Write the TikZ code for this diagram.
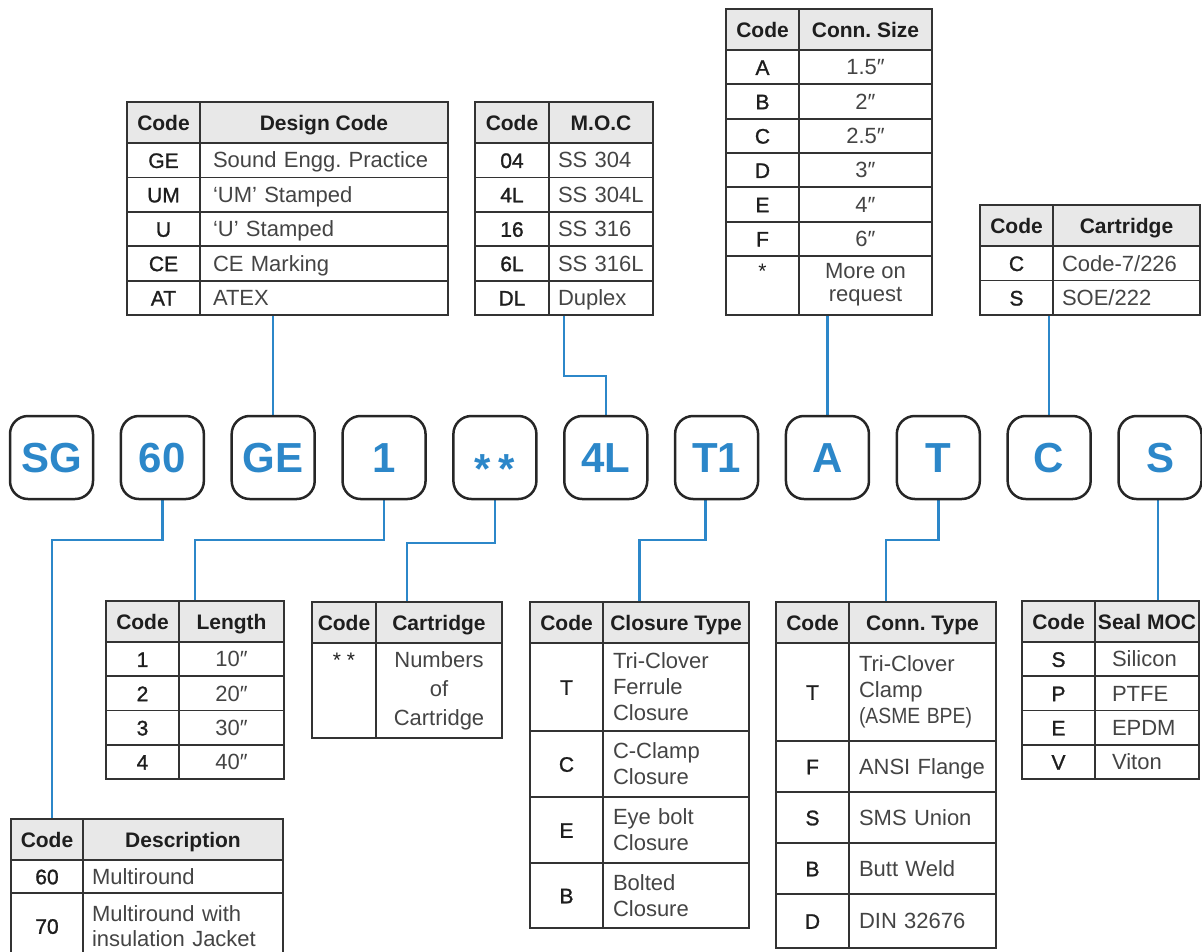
\documentclass[tikz,border=0pt]{standalone}
\usepackage{fontspec}
\setmainfont{Liberation Sans}
\newfontfamily\codefont{Liberation Sans}[FakeBold=1.2]
\usepackage{graphicx}
\usepackage{xcolor}
\usepackage{tikz}
\usetikzlibrary{positioning, calc, fit, backgrounds}
\definecolor{keyblue}{RGB}{44,135,201}
\definecolor{boxline}{RGB}{38,38,38}
\definecolor{tabline}{RGB}{51,51,51}
\definecolor{headgray}{RGB}{232,232,232}
\definecolor{textdark}{RGB}{30,30,30}
\definecolor{textsoft}{RGB}{68,68,68}
\frenchspacing

\begin{document}
\begin{tikzpicture}[
        x=1pt, y=-1pt,
        keybox/.style={rectangle, rounded corners=18pt, draw=boxline, line width=2.5pt, minimum width=83pt, minimum height=83pt, inner sep=0pt, outer sep=0pt, text height=30pt, text depth=0pt, text=keyblue, font=\fontsize{42}{42}\selectfont\bfseries},
        cell/.style={rectangle, draw=tabline, line width=1.8pt, inner sep=0pt, outer sep=0pt, anchor=north west, text height=15.5pt, text depth=0pt},
        multi/.style={text height={}, text depth={}},
        headcell/.style={cell, fill=headgray, text=textdark, minimum width=#1, minimum height=41pt, font=\fontsize{21}{25}\selectfont\bfseries},
        codecell/.style={cell, text=textdark, minimum width=#1, align=center, font=\fontsize{21}{26}\selectfont\codefont},
        desccell/.style n args={2}{cell, text=textsoft, inner xsep=#1, text width=#2, align=left, font=\fontsize{22}{26}\selectfont},
        valcell/.style={cell, text=textsoft, minimum width=#1, align=center, font=\fontsize{22}{26}\selectfont},
        tabframe/.style={rectangle, draw=tabline, line width=1.8pt, inner sep=0pt, outer sep=0pt},
        link/.style={draw=keyblue, line width=2.5pt}
    ]
    \useasboundingbox (0,0) rectangle (1202,951);

    % Code boxes
    \node[keybox] (bSG) at (51.5,457.5) {SG};
    \node[keybox, right=27.85pt of bSG] (b60) {60};
    \node[keybox, right=27.85pt of b60] (bGE) {GE};
    \node[keybox, right=27.85pt of bGE] (b1) {1};
    \node[keybox, right=27.85pt of b1] (bStar) {\raisebox{-11pt}{*\hspace{8pt}*}};
    \node[keybox, right=27.85pt of bStar] (b4L) {4L};
    \node[keybox, right=27.85pt of b4L] (bT1) {T1};
    \node[keybox, right=27.85pt of bT1] (bA) {A};
    \node[keybox, right=27.85pt of bA] (bT) {T};
    \node[keybox, right=27.85pt of bT] (bC) {C};
    \node[keybox, right=27.85pt of bC] (bS) {S};

    % Design Code table
    \node[headcell=73] (dcHc) at (127,102) {Code};
    \node[headcell=248, right=0pt of dcHc] (dcHd) {Design Code};
    \node[codecell=73, minimum height=34.4pt, below=0pt of dcHc] (dcGE) {GE};
    \node[desccell={13pt}{222pt}, minimum height=34.4pt, right=0pt of dcGE] (dcGEd) {Sound Engg. Practice};
    \node[codecell=73, minimum height=34.4pt, below=0pt of dcGE] (dcUM) {UM};
    \node[desccell={13pt}{222pt}, minimum height=34.4pt, right=0pt of dcUM] (dcUMd) {‘UM’ Stamped};
    \node[codecell=73, minimum height=34.4pt, below=0pt of dcUM] (dcU) {U};
    \node[desccell={13pt}{222pt}, minimum height=34.4pt, right=0pt of dcU] (dcUd) {‘U’ Stamped};
    \node[codecell=73, minimum height=34.4pt, below=0pt of dcU] (dcCE) {CE};
    \node[desccell={13pt}{222pt}, minimum height=34.4pt, right=0pt of dcCE] (dcCEd) {CE Marking};
    \node[codecell=73, minimum height=34.4pt, below=0pt of dcCE] (dcAT) {AT};
    \node[desccell={13pt}{222pt}, minimum height=34.4pt, right=0pt of dcAT] (dcATd) {ATEX};
    \node[tabframe, fit=(dcHc)(dcATd)] (tDesign) {};

    % M.O.C table
    \node[headcell=74] (mcHc) at (475,102) {Code};
    \node[headcell=104, right=0pt of mcHc] (mcHd) {M.O.C};
    \node[codecell=74, minimum height=34.4pt, below=0pt of mcHc] (mc04) {04};
    \node[desccell={9pt}{86pt}, minimum height=34.4pt, right=0pt of mc04] (mc04d) {SS 304};
    \node[codecell=74, minimum height=34.4pt, below=0pt of mc04] (mc4L) {4L};
    \node[desccell={9pt}{86pt}, minimum height=34.4pt, right=0pt of mc4L] (mc4Ld) {SS 304L};
    \node[codecell=74, minimum height=34.4pt, below=0pt of mc4L] (mc16) {16};
    \node[desccell={9pt}{86pt}, minimum height=34.4pt, right=0pt of mc16] (mc16d) {SS 316};
    \node[codecell=74, minimum height=34.4pt, below=0pt of mc16] (mc6L) {6L};
    \node[desccell={9pt}{86pt}, minimum height=34.4pt, right=0pt of mc6L] (mc6Ld) {SS 316L};
    \node[codecell=74, minimum height=34.4pt, below=0pt of mc6L] (mcDL) {DL};
    \node[desccell={9pt}{86pt}, minimum height=34.4pt, right=0pt of mcDL] (mcDLd) {Duplex};
    \node[tabframe, fit=(mcHc)(mcDLd)] (tMoc) {};

    % Conn. Size table
    \node[headcell=73] (csHc) at (726,9) {Code};
    \node[headcell=133, right=0pt of csHc] (csHd) {Conn. Size};
    \node[codecell=73, minimum height=34.33pt, below=0pt of csHc] (csA) {A};
    \node[valcell=133, minimum height=34.33pt, right=0pt of csA] (csAd) {1.5″};
    \node[codecell=73, minimum height=34.33pt, below=0pt of csA] (csB) {B};
    \node[valcell=133, minimum height=34.33pt, right=0pt of csB] (csBd) {2″};
    \node[codecell=73, minimum height=34.33pt, below=0pt of csB] (csC) {C};
    \node[valcell=133, minimum height=34.33pt, right=0pt of csC] (csCd) {2.5″};
    \node[codecell=73, minimum height=34.33pt, below=0pt of csC] (csD) {D};
    \node[valcell=133, minimum height=34.33pt, right=0pt of csD] (csDd) {3″};
    \node[codecell=73, minimum height=34.33pt, below=0pt of csD] (csE) {E};
    \node[valcell=133, minimum height=34.33pt, right=0pt of csE] (csEd) {4″};
    \node[codecell=73, minimum height=34.33pt, below=0pt of csE] (csF) {F};
    \node[valcell=133, minimum height=34.33pt, right=0pt of csF] (csFd) {6″};
    \node[codecell=73, multi, minimum height=59pt, below=0pt of csF, font=\fontsize{21}{23}\selectfont] (csX) {\strut*\\\strut};
    \node[valcell=133, multi, minimum height=59pt, right=0pt of csX, font=\fontsize{22}{23}\selectfont] (csXd) {\strut More on\\\strut request};
    \node[tabframe, fit=(csHc)(csXd)] (tSize) {};

    % Cartridge table (top)
    \node[headcell=73] (ctHc) at (980,205) {Code};
    \node[headcell=147, right=0pt of ctHc] (ctHd) {Cartridge};
    \node[codecell=73, minimum height=34.5pt, below=0pt of ctHc] (ctC) {C};
    \node[desccell={9pt}{129pt}, minimum height=34.5pt, right=0pt of ctC] (ctCd) {Code-7/226};
    \node[codecell=73, minimum height=34.5pt, below=0pt of ctC] (ctS) {S};
    \node[desccell={9pt}{129pt}, minimum height=34.5pt, right=0pt of ctS] (ctSd) {SOE/222};
    \node[tabframe, fit=(ctHc)(ctSd)] (tCart) {};

    % Length table
    \node[headcell=73] (lnHc) at (106,601) {Code};
    \node[headcell=105, right=0pt of lnHc] (lnHd) {Length};
    \node[codecell=73, minimum height=34.25pt, below=0pt of lnHc] (ln1) {1};
    \node[valcell=105, minimum height=34.25pt, right=0pt of ln1] (ln1d) {10″};
    \node[codecell=73, minimum height=34.25pt, below=0pt of ln1] (ln2) {2};
    \node[valcell=105, minimum height=34.25pt, right=0pt of ln2] (ln2d) {20″};
    \node[codecell=73, minimum height=34.25pt, below=0pt of ln2] (ln3) {3};
    \node[valcell=105, minimum height=34.25pt, right=0pt of ln3] (ln3d) {30″};
    \node[codecell=73, minimum height=34.25pt, below=0pt of ln3] (ln4) {4};
    \node[valcell=105, minimum height=34.25pt, right=0pt of ln4] (ln4d) {40″};
    \node[tabframe, fit=(lnHc)(ln4d)] (tLen) {};

    % Number of cartridges table
    \node[headcell=64] (nmHc) at (312,602) {Code};
    \node[headcell=126, right=0pt of nmHc] (nmHd) {Cartridge};
    \node[codecell=64, multi, minimum height=95pt, below=0pt of nmHc, font=\fontsize{21}{29}\selectfont] (nmX) {\strut* *\\\strut\\\strut};
    \node[valcell=126, multi, minimum height=95pt, right=0pt of nmX, font=\fontsize{22}{29}\selectfont] (nmXd) {\strut Numbers\\\strut of\\\strut Cartridge};
    \node[tabframe, fit=(nmHc)(nmXd)] (tCnt) {};

    % Closure Type table
    \node[headcell=73] (clHc) at (530,602) {Code};
    \node[headcell=146, right=0pt of clHc] (clHd) {Closure Type};
    \node[codecell=73, minimum height=88pt, below=0pt of clHc] (clT) {T};
    \node[desccell={10pt}{126pt}, multi, minimum height=88pt, right=0pt of clT] (clTd) {Tri-Clover\\Ferrule\\Closure};
    \node[codecell=73, minimum height=66pt, below=0pt of clT] (clC) {C};
    \node[desccell={10pt}{126pt}, multi, minimum height=66pt, right=0pt of clC] (clCd) {C-Clamp\\Closure};
    \node[codecell=73, minimum height=66pt, below=0pt of clC] (clE) {E};
    \node[desccell={10pt}{126pt}, multi, minimum height=66pt, right=0pt of clE] (clEd) {Eye bolt\\Closure};
    \node[codecell=73, minimum height=65pt, below=0pt of clE] (clB) {B};
    \node[desccell={10pt}{126pt}, multi, minimum height=65pt, right=0pt of clB] (clBd) {Bolted\\Closure};
    \node[tabframe, fit=(clHc)(clBd)] (tClo) {};

    % Conn. Type table
    \node[headcell=73] (ctyHc) at (776,602) {Code};
    \node[headcell=147, right=0pt of ctyHc] (ctyHd) {Conn. Type};
    \node[codecell=73, minimum height=98pt, below=0pt of ctyHc] (ctyT) {T};
    \node[desccell={10pt}{127pt}, multi, minimum height=98pt, right=0pt of ctyT] (ctyTd) {Tri-Clover\\Clamp\\\scalebox{0.88}[1]{(ASME BPE)}};
    \node[codecell=73, minimum height=51pt, below=0pt of ctyT] (ctyF) {F};
    \node[desccell={10pt}{127pt}, minimum height=51pt, right=0pt of ctyF] (ctyFd) {ANSI Flange};
    \node[codecell=73, minimum height=51pt, below=0pt of ctyF] (ctyS) {S};
    \node[desccell={10pt}{127pt}, minimum height=51pt, right=0pt of ctyS] (ctySd) {SMS Union};
    \node[codecell=73, minimum height=51pt, below=0pt of ctyS] (ctyB) {B};
    \node[desccell={10pt}{127pt}, minimum height=51pt, right=0pt of ctyB] (ctyBd) {Butt Weld};
    \node[codecell=73, minimum height=54pt, below=0pt of ctyB] (ctyD) {D};
    \node[desccell={10pt}{127pt}, minimum height=54pt, right=0pt of ctyD] (ctyDd) {DIN 32676};
    \node[tabframe, fit=(ctyHc)(ctyDd)] (tType) {};

    % Seal MOC table
    \node[headcell=73] (slHc) at (1022,601) {Code};
    \node[headcell=104, right=0pt of slHc] (slHd) {Seal MOC};
    \node[codecell=73, minimum height=34.25pt, below=0pt of slHc] (slS) {S};
    \node[desccell={17pt}{70pt}, minimum height=34.25pt, right=0pt of slS] (slSd) {Silicon};
    \node[codecell=73, minimum height=34.25pt, below=0pt of slS] (slP) {P};
    \node[desccell={17pt}{70pt}, minimum height=34.25pt, right=0pt of slP] (slPd) {PTFE};
    \node[codecell=73, minimum height=34.25pt, below=0pt of slP] (slE) {E};
    \node[desccell={17pt}{70pt}, minimum height=34.25pt, right=0pt of slE] (slEd) {EPDM};
    \node[codecell=73, minimum height=34.25pt, below=0pt of slE] (slV) {V};
    \node[desccell={17pt}{70pt}, minimum height=34.25pt, right=0pt of slV] (slVd) {Viton};
    \node[tabframe, fit=(slHc)(slVd)] (tSeal) {};

    % Description table
    \node[headcell=72] (dsHc) at (11,819) {Code};
    \node[headcell=200, right=0pt of dsHc] (dsHd) {Description};
    \node[codecell=72, minimum height=33pt, below=0pt of dsHc] (ds60) {60};
    \node[desccell={9pt}{182pt}, minimum height=33pt, right=0pt of ds60] (ds60d) {Multiround};
    \node[codecell=72, minimum height=66pt, below=0pt of ds60] (ds70) {70};
    \node[desccell={9pt}{182pt}, multi, minimum height=66pt, right=0pt of ds70, font=\fontsize{22}{25}\selectfont] (ds70d) {Multiround with\\insulation Jacket};
    \node[tabframe, fit=(dsHc)(ds70d)] (tDesc) {};

    % Connectors
    \begin{scope}[on background layer]
        \draw[link] (bGE.north) -- (bGE.north |- tDesign.south);
        \draw[link] (b4L.north) -- ++(0,-40) -| (tMoc.south);
        \draw[link] (bA.north) -- (bA.north |- tSize.south);
        \draw[link] (bC.north) -- (bC.north |- tCart.south);
        \draw[link] (b60.south) -- ++(0,41) -| ($(tDesc.north west)+(41,0)$);
        \draw[link] (b1.south) -- ++(0,41) -| (tLen.north);
        \draw[link] (bStar.south) -- ++(0,44) -| (tCnt.north);
        \draw[link] ([xshift=-11pt]bT1.south) -- ++(0,41) -| (tClo.north);
        \draw[link] (bT.south) -- ++(0,41) -| (tType.north);
        \draw[link] ([xshift=-2pt]bS.south) -- ([xshift=-2pt]bS.south |- tSeal.north);
    \end{scope}
\end{tikzpicture}
\end{document}
